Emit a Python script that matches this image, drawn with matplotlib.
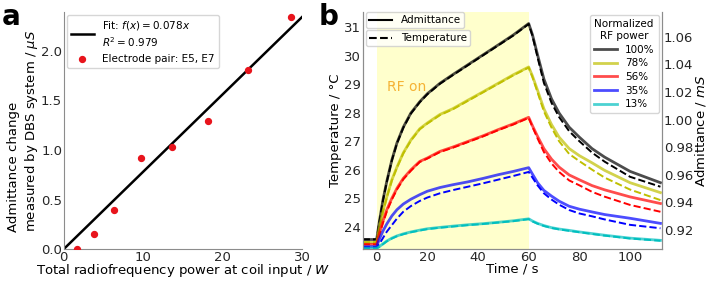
import matplotlib
matplotlib.use("Agg")
import matplotlib.pyplot as plt
from matplotlib.lines import Line2D

# ----------------------------
# Panel a data
# ----------------------------
rf_power_w = [1.75, 3.8, 6.4, 9.75, 13.65, 18.15, 23.15, 28.6]
admittance_change_us = [0.0, 0.15, 0.40, 0.92, 1.03, 1.29, 1.81, 2.34]
fit_slope = 0.078
fit_x = [0, 30]

# ----------------------------
# Panel b data (time in s)
# ----------------------------
time_s = [-5.5, 0, 1, 2.5, 4, 6, 8, 10.5, 13.5, 17, 20, 25, 30, 36, 42, 48, 54, 60,
          61.5, 63.5, 66, 69, 72, 76, 80, 85, 90, 100, 112]

power_labels = ["100%", "78%", "56%", "35%", "13%"]

# temperature (dashed, left axis, degC)
temp_100 = [23.55, 23.55, 24.12, 24.92, 25.57, 26.32, 26.92, 27.47, 27.97, 28.37, 28.65, 29.02,
            29.32, 29.67, 30.02, 30.37, 30.72, 31.12,
            30.7, 29.95, 29.05, 28.35, 27.85, 27.35, 27.0, 26.6, 26.28, 25.75, 25.4]
temp_78 = [23.45, 23.45, 23.92, 24.52, 25.02, 25.62, 26.07, 26.57, 27.02, 27.42, 27.62, 27.92,
           28.12, 28.42, 28.72, 29.02, 29.32, 29.59,
           29.25, 28.72, 28.05, 27.48, 27.0, 26.55, 26.3, 26.0, 25.72, 25.3, 24.93]
temp_56 = [23.38, 23.38, 23.7, 24.13, 24.53, 24.95, 25.3, 25.66, 25.96, 26.27, 26.39, 26.62,
           26.77, 26.97, 27.17, 27.39, 27.59, 27.82,
           27.5, 27.1, 26.62, 26.22, 25.92, 25.62, 25.45, 25.22, 25.05, 24.76, 24.52]
temp_35 = [23.28, 23.28, 23.38, 23.6, 23.82, 24.05, 24.28, 24.52, 24.72, 24.9, 25.02, 25.17,
           25.28, 25.4, 25.52, 25.65, 25.78, 25.92,
           25.72, 25.45, 25.17, 24.95, 24.77, 24.58, 24.46, 24.36, 24.25, 24.06, 23.94]
temp_13 = [23.23, 23.23, 23.28, 23.38, 23.48, 23.58, 23.66, 23.73, 23.8, 23.86, 23.91, 23.96,
           24.0, 24.05, 24.09, 24.14, 24.19, 24.26,
           24.18, 24.1, 24.02, 23.95, 23.9, 23.85, 23.8, 23.74, 23.68, 23.58, 23.5]

# admittance (solid, right axis, mS)
adm_100 = [0.9131, 0.9131, 0.9254, 0.9419, 0.9553, 0.9708, 0.9831, 0.9945, 1.0048, 1.0130,
           1.0188, 1.0264, 1.0326, 1.0398, 1.0470, 1.0542, 1.0615, 1.0697,
           1.0615, 1.0470, 1.0295, 1.0151, 1.0048, 0.9945, 0.9873, 0.9790, 0.9728, 0.9625, 0.9543]
adm_78 = [0.9110, 0.9110, 0.9213, 0.9337, 0.9440, 0.9564, 0.9656, 0.9759, 0.9852, 0.9934,
          0.9976, 1.0038, 1.0079, 1.0141, 1.0202, 1.0264, 1.0326, 1.0382,
          1.0316, 1.0213, 1.0079, 0.9965, 0.9873, 0.9790, 0.9739, 0.9687, 0.9632, 0.9543, 0.9471]
adm_56 = [0.9096, 0.9096, 0.9172, 0.9265, 0.9347, 0.9430, 0.9502, 0.9574, 0.9636, 0.9697,
          0.9722, 0.9770, 0.9801, 0.9842, 0.9883, 0.9928, 0.9970, 1.0017,
          0.9955, 0.9879, 0.9790, 0.9714, 0.9656, 0.9599, 0.9564, 0.9522, 0.9491, 0.9440, 0.9392]
adm_35 = [0.9079, 0.9079, 0.9131, 0.9193, 0.9244, 0.9302, 0.9347, 0.9388, 0.9423, 0.9456,
          0.9481, 0.9508, 0.9528, 0.9549, 0.9574, 0.9601, 0.9625, 0.9652,
          0.9605, 0.9543, 0.9487, 0.9446, 0.9409, 0.9372, 0.9351, 0.9331, 0.9312, 0.9285, 0.9248]
adm_13 = [0.9069, 0.9069, 0.9079, 0.9100, 0.9120, 0.9141, 0.9157, 0.9172, 0.9186, 0.9199,
          0.9209, 0.9219, 0.9228, 0.9238, 0.9246, 0.9256, 0.9267, 0.9281,
          0.9265, 0.9248, 0.9232, 0.9217, 0.9207, 0.9197, 0.9186, 0.9174, 0.9162, 0.9141, 0.9125]

temps = [temp_100, temp_78, temp_56, temp_35, temp_13]
adms = [adm_100, adm_78, adm_56, adm_35, adm_13]
colors = ["k", "y", "r", "b", "c"]

spine_col = "0.55"
tick_fs = 9.5
label_fs = 9.5
legend_fs = 7.5

fig = plt.figure(figsize=(7.09, 2.81), dpi=100)

# ----------------------------
# Panel a
# ----------------------------
ax_a = fig.add_axes([0.0896, 0.1128, 0.3364, 0.8442])
ax_a.plot(fit_x, [fit_slope * x for x in fit_x], color="k", lw=1.8,
          label="Fit: $f(x) = 0.078x$\n$R^2 = 0.979$")
ax_a.scatter(rf_power_w, admittance_change_us, color="#e8141c", s=18, zorder=3,
             label="Electrode pair: E5, E7")
ax_a.set_xlim(0, 30)
ax_a.set_ylim(0, 2.39)
ax_a.set_xticks([0, 10, 20, 30])
ax_a.set_yticks([0, 0.5, 1.0, 1.5, 2.0])
ax_a.set_xlabel("Total radiofrequency power at coil input / $W$", fontsize=label_fs, labelpad=-1)
ax_a.set_ylabel("Admittance change\nmeasured by DBS system / $\\mu S$", fontsize=label_fs,
                labelpad=1, multialignment="left")
ax_a.legend(loc="upper left", fontsize=legend_fs, handlelength=2.2, borderaxespad=0.3)
for s in ["top", "right"]:
    ax_a.spines[s].set_visible(False)
for s in ["left", "bottom"]:
    ax_a.spines[s].set_color(spine_col)
ax_a.tick_params(colors=spine_col, labelcolor="0.15", labelsize=tick_fs, length=0, pad=1)
fig.text(0.003, 0.99, "a", fontsize=20, fontweight="bold", va="top")

# ----------------------------
# Panel b
# ----------------------------
ax_b = fig.add_axes([0.5116, 0.1128, 0.4217, 0.8442])
ax_r = ax_b.twinx()
ax_b.axvspan(0, 60, color="yellow", alpha=0.2, lw=0)
for c, t in zip(colors, temps):
    ax_b.plot(time_s, t, color=c, ls="--", lw=1.4)
for c, a, lab in zip(colors, adms, power_labels):
    ax_r.plot(time_s, a, color=c, lw=2.0, alpha=0.7, label=lab)

ax_b.set_xlim(-5.5, 112.5)
ax_b.set_ylim(23.2, 31.54)
ax_r.set_ylim(0.906, 1.078)
ax_b.set_xticks([0, 20, 40, 60, 80, 100])
ax_b.set_yticks([24, 25, 26, 27, 28, 29, 30, 31])
ax_r.set_yticks([0.92, 0.94, 0.96, 0.98, 1.00, 1.02, 1.04, 1.06])
ax_b.set_xlabel("Time / s", fontsize=label_fs, labelpad=-1)
ax_b.set_ylabel("Temperature / °C", fontsize=label_fs, labelpad=1)
ax_r.set_ylabel("Admittance / $mS$", fontsize=label_fs, labelpad=0)
ax_b.text(4, 28.9, "RF on", color="#f5b335", fontsize=10, va="center")

for a in (ax_b, ax_r):
    a.spines["top"].set_visible(False)
    for s in ["left", "bottom", "right"]:
        a.spines[s].set_color(spine_col)
    a.tick_params(colors=spine_col, labelcolor="0.15", labelsize=tick_fs, length=0, pad=1.5)

leg_pow = ax_r.legend(loc="upper right", title="Normalized\nRF power", fontsize=legend_fs,
                      title_fontsize=legend_fs, handlelength=2.2, borderaxespad=0.3,
                      labelspacing=0.35)
leg_pow.get_title().set_multialignment("center")
ax_r.add_artist(leg_pow)
leg_adm = ax_r.legend(handles=[Line2D([], [], color="k", lw=1.5)], labels=["Admittance"],
                      loc="upper left", bbox_to_anchor=(0.012, 1.0), fontsize=legend_fs,
                      handlelength=2.2, borderaxespad=0, borderpad=0.3)
ax_r.add_artist(leg_adm)
ax_r.legend(handles=[Line2D([], [], color="k", lw=1.5, ls="--")], labels=["Temperature"],
            loc="upper left", bbox_to_anchor=(0.012, 0.924), fontsize=legend_fs,
            handlelength=2.2, borderaxespad=0, borderpad=0.3)
fig.text(0.449, 0.99, "b", fontsize=20, fontweight="bold", va="top")

fig.savefig("out.png", dpi=100)
